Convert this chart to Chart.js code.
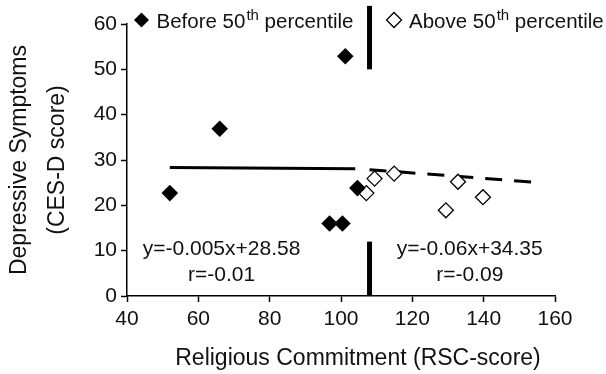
<!DOCTYPE html>
<html><head><meta charset="utf-8">
<script src="https://cdn.jsdelivr.net/npm/chart.js@4/dist/chart.umd.min.js"></script>
<style>html,body{margin:0;padding:0;background:#fff}</style>
</head><body>
<canvas id="c" width="606" height="374"></canvas>
<script>
// ---- data ----
const beforeX = [52, 66, 101.2, 96.8, 100.4, 104.6];
const beforeY = [22.7, 36.9, 52.9, 16.0, 16.0, 23.8];
const aboveX = [107.1, 109.4, 114.9, 132.8, 129.4, 139.8];
const aboveY = [22.7, 25.9, 27.0, 25.2, 18.9, 21.8];
// regression lines as printed in the chart
const beforeFit = { slope: -0.005, intercept: 28.58, from: 52, to: 104 };
const aboveFit = { slope: -0.06, intercept: 34.35, from: 108, to: 155 };
const beforeFitLabels = ['y=-0.005x+28.58', 'r=-0.01'];
const aboveFitLabels = ['y=-0.06x+34.35', 'r=-0.09'];
// 50th percentile divider
const percentileX = 108;
const dividerLow = [0, 12];
const dividerHigh = [50, 64];
const xTicks = [40, 60, 80, 100, 120, 140, 160];
const yTicks = [0, 10, 20, 30, 40, 50, 60];
const legendLabels = [['Before 50', 'th', ' percentile'], ['Above 50', 'th', ' percentile']];
const xTitle = 'Religious Commitment (RSC-score)';
const yTitle = ['Depressive Symptoms', '(CES-D score)'];

const FONT = '"Liberation Sans", Arial, sans-serif';
const INK = '#111';
Chart.defaults.font.family = FONT;
Chart.defaults.color = INK;

const pts = (xs, ys) => xs.map((x, i) => ({ x, y: ys[i] }));
const fitLine = f => [f.from, f.to].map(x => ({ x, y: f.slope * x + f.intercept }));

const annot = {
  id: 'annot',
  afterDraw(chart) {
    const { ctx, scales: { x, y }, chartArea } = chart;
    ctx.save();
    ctx.fillStyle = INK;
    ctx.textAlign = 'center';
    ctx.textBaseline = 'middle';
    ctx.font = '21px ' + FONT;
    // fit equations
    ctx.fillText(beforeFitLabels[0], x.getPixelForValue(66.5), y.getPixelForValue(10.3));
    ctx.fillText(beforeFitLabels[1], x.getPixelForValue(66.5), y.getPixelForValue(4.6));
    ctx.fillText(aboveFitLabels[0], x.getPixelForValue(136.1), y.getPixelForValue(10.3));
    ctx.fillText(aboveFitLabels[1], x.getPixelForValue(136.1), y.getPixelForValue(4.6));
    // x title
    ctx.font = '23px ' + FONT;
    ctx.fillText(xTitle, (chartArea.left + chartArea.right) / 2 + 17, 359);
    // legend
    const drawLegend = (x0, yc, parts, filled) => {
      const r = 7.5;
      ctx.beginPath();
      ctx.moveTo(x0 - r, yc); ctx.lineTo(x0, yc - r); ctx.lineTo(x0 + r, yc); ctx.lineTo(x0, yc + r); ctx.closePath();
      if (filled) { ctx.fillStyle = '#000'; ctx.fill(); }
      else { ctx.fillStyle = '#fff'; ctx.fill(); ctx.strokeStyle = '#000'; ctx.lineWidth = 1.3; ctx.stroke(); }
      ctx.fillStyle = INK;
      ctx.textAlign = 'left';
      ctx.textBaseline = 'alphabetic';
      let tx = x0 + 15;
      const base = yc + 8;
      ctx.font = '20.5px ' + FONT;
      ctx.fillText(parts[0], tx, base); tx += ctx.measureText(parts[0]).width + 1;
      ctx.font = '15px ' + FONT;
      ctx.fillText(parts[1], tx, base - 8); tx += ctx.measureText(parts[1]).width;
      ctx.font = '20.5px ' + FONT;
      ctx.fillText(parts[2], tx, base);
    };
    drawLegend(chartArea.left + 14.5, chartArea.top - 4, legendLabels[0], true);
    drawLegend(x.getPixelForValue(percentileX) + 24.5, chartArea.top - 4, legendLabels[1], false);
    ctx.restore();
  }
};

new Chart(document.getElementById('c'), {
  type: 'scatter',
  data: {
    datasets: [
      { label: 'Before 50th percentile', data: pts(beforeX, beforeY), pointStyle: 'rectRot', pointRadius: 8.3,
        backgroundColor: '#000', borderColor: '#000', borderWidth: 0 },
      { label: 'Above 50th percentile', data: pts(aboveX, aboveY), pointStyle: 'rectRot', pointRadius: 7.5,
        backgroundColor: '#fff', borderColor: '#000', borderWidth: 1.3 },
      { label: 'fit before', data: fitLine(beforeFit), showLine: true, pointRadius: 0, borderColor: '#000', borderWidth: 3 },
      { label: 'fit above', data: fitLine(aboveFit), showLine: true, pointRadius: 0, borderColor: '#000', borderWidth: 3, borderDash: [17, 12] },
      { label: 'divider low', data: dividerLow.map(v => ({ x: percentileX, y: v })), showLine: true, pointRadius: 0, borderColor: '#000', borderWidth: 5, clip: false },
      { label: 'divider high', data: dividerHigh.map(v => ({ x: percentileX, y: v })), showLine: true, pointRadius: 0, borderColor: '#000', borderWidth: 5, clip: false }
    ]
  },
  options: {
    responsive: false,
    animation: false,
    layout: { padding: { left: 0, right: 51, top: 24, bottom: 0 } },
    plugins: { legend: { display: false }, tooltip: { enabled: false } },
    scales: {
      x: {
        type: 'linear', min: 40, max: 160,
        afterBuildTicks: s => { s.ticks = xTicks.map(v => ({ value: v })); },
        afterFit: s => { s.height = 78; },
        border: { color: '#000', width: 1.5 },
        grid: { drawOnChartArea: false, color: '#000', tickLength: 6, tickWidth: 1.5 },
        ticks: { font: { size: 21 }, color: INK, padding: 5, maxRotation: 0 }
      },
      y: {
        type: 'linear', min: 0, max: 60,
        afterBuildTicks: s => { s.ticks = yTicks.map(v => ({ value: v })); },
        afterFit: s => { s.width = 127; },
        border: { color: '#000', width: 1.5 },
        grid: { drawOnChartArea: false, color: '#000', tickLength: 6, tickWidth: 1.5 },
        ticks: { font: { size: 21 }, color: INK, padding: 4 },
        title: { display: true, text: yTitle, color: INK, font: { size: 23, lineHeight: '38px' }, padding: { top: 1, bottom: 0 } }
      }
    }
  },
  plugins: [annot]
});
</script>
</body></html>
